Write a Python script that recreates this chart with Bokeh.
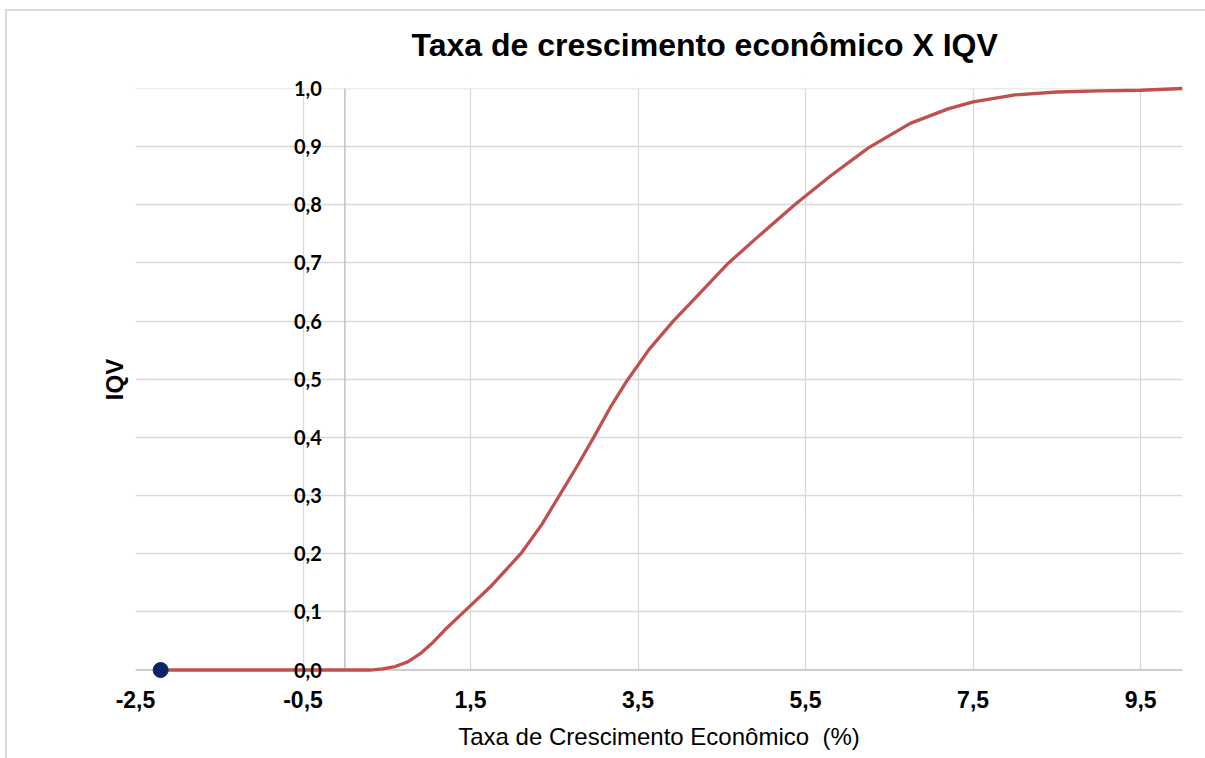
from bokeh.plotting import figure
from bokeh.models import Range1d, FixedTicker, Span, LabelSet, ColumnDataSource, BoxAnnotation
from bokeh.core.properties import value
from bokeh.embed import file_html
from bokeh.resources import INLINE

# ---- data ----
growth_rate = [-2.2, -1.0, 0.0, 0.3, 0.45, 0.6, 0.75, 0.9, 1.04, 1.2, 1.42, 1.75, 2.1,
               2.35, 2.56, 2.77, 2.97, 3.17, 3.37, 3.63, 3.92, 4.25, 4.58, 4.97, 5.37,
               5.8, 6.25, 6.75, 7.2, 7.5, 8.0, 8.5, 9.0, 9.5, 10.0]
iqv = [0.0, 0.0, 0.0, 0.0, 0.002, 0.006, 0.014, 0.028, 0.046, 0.07, 0.1, 0.145, 0.2,
       0.25, 0.3, 0.35, 0.4, 0.452, 0.498, 0.551, 0.6, 0.65, 0.7, 0.75, 0.8,
       0.85, 0.898, 0.94, 0.965, 0.977, 0.989, 0.994, 0.996, 0.997, 1.0]
point_x = [-2.2]
point_y = [0.0]

x_ticks = [-2.5, -0.5, 1.5, 3.5, 5.5, 7.5, 9.5]
x_tick_labels = ["-2,5", "-0,5", "1,5", "3,5", "5,5", "7,5", "9,5"]
y_ticks = [0.0, 0.1, 0.2, 0.3, 0.4, 0.5, 0.6, 0.7, 0.8, 0.9, 1.0]
y_tick_labels = ["0,0", "0,1", "0,2", "0,3", "0,4", "0,5", "0,6", "0,7", "0,8", "0,9", "1,0"]

title_text = "Taxa de crescimento econômico X IQV"
x_title = "Taxa de Crescimento Econômico\u00a0 (%)"
y_title = "IQV"

X_MIN, X_MAX = -2.5, 10.0
Y_MIN, Y_MAX = 0.0, 1.0
PAD_LO, PAD_HI = 0.0249, 0.0241   # room so marks on the edges are not cut

p = figure(width=1205, height=758, output_backend="svg", toolbar_location=None,
           x_range=Range1d(X_MIN, X_MAX), y_range=Range1d(Y_MIN - PAD_LO, Y_MAX + PAD_HI),
           min_border_left=135, min_border_right=23, min_border_top=74, min_border_bottom=74)
p.outline_line_color = None
p.background_fill_color = "white"
p.border_fill_color = None
# light chart-area border (top and left edges)
p.styles = {"background": "linear-gradient(#d9d9d9, #d9d9d9) 5px 9px / 2px 100% no-repeat, "
                          "linear-gradient(#d9d9d9, #d9d9d9) 5px 9px / 100% 2px no-repeat, white"}

# title
p.title.text = title_text
p.title.align = "left"
p.title.offset = 276
p.title.text_font = "Liberation Sans"
p.title.text_font_style = "bold"
p.title.text_font_size = "32px"
p.title.text_color = "black"
p.title.standoff = 24

# grids
p.xgrid.ticker = FixedTicker(ticks=x_ticks)
p.ygrid.ticker = FixedTicker(ticks=y_ticks)
for g in (p.xgrid, p.ygrid):
    g.grid_line_color = "#d9d9d9"
    g.grid_line_width = 1.3

# vertical axis line crossing at x = 0
p.add_layout(Span(location=0, dimension="height", line_color="#bfbfbf",
                  line_width=1.5, level="underlay"))
# blank the padding strips above 1.0 and below 0.0
p.add_layout(BoxAnnotation(top=Y_MIN, fill_color="white", fill_alpha=1.0,
                           line_color=None, level="underlay"))
p.add_layout(BoxAnnotation(bottom=Y_MAX, fill_color="white", fill_alpha=1.0,
                           line_color=None, level="underlay"))
# horizontal axis line at y = 0
p.add_layout(Span(location=0, dimension="width", line_color="#bfbfbf",
                  line_width=1.5, level="underlay"))

# x axis
xa = p.xaxis[0]
xa.ticker = FixedTicker(ticks=x_ticks)
xa.major_label_overrides = dict(zip(x_ticks, x_tick_labels))
xa.axis_line_color = None
xa.major_tick_out = 0
xa.major_tick_in = 0
xa.minor_tick_out = 0
xa.minor_tick_in = 0
xa.major_label_standoff = 6
xa.major_label_text_font = "Liberation Sans"
xa.major_label_text_font_style = "bold"
xa.major_label_text_font_size = "23px"
xa.major_label_text_color = "black"
xa.axis_label = x_title
xa.axis_label_text_font = "Liberation Sans"
xa.axis_label_text_font_style = "normal"
xa.axis_label_text_font_size = "24px"
xa.axis_label_text_color = "black"
xa.axis_label_standoff = 12

# y axis (only the title is shown; tick labels drawn at x = 0)
ya = p.yaxis[0]
ya.ticker = FixedTicker(ticks=[])
ya.axis_line_color = None
ya.major_tick_out = 0
ya.major_tick_in = 0
ya.minor_tick_out = 0
ya.minor_tick_in = 0
ya.major_label_standoff = 0
ya.axis_label = y_title
ya.axis_label_text_font = "Liberation Sans"
ya.axis_label_text_font_style = "bold"
ya.axis_label_text_font_size = "24px"
ya.axis_label_text_color = "black"
ya.axis_label_standoff = 8

ylab_src = ColumnDataSource(dict(x=[0.0] * len(y_ticks), y=y_ticks, t=y_tick_labels))
p.add_layout(LabelSet(x="x", y="y", text="t", source=ylab_src, x_offset=-23,
                      text_align="right", text_baseline="middle",
                      text_font=value("Lato"), text_font_style="bold",
                      text_font_size="20px", text_color="black"))

# series
p.line(growth_rate, iqv, line_color="#c0504d", line_width=3.3)
p.scatter(point_x, point_y, size=15, fill_color="#0b2463", line_color="#0b2463")

open("out.html", "w").write(file_html(p, INLINE))
